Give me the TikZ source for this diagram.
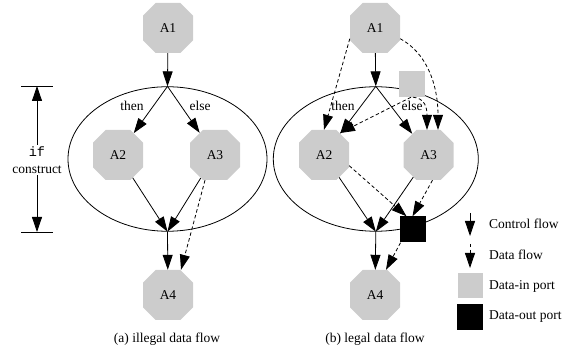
\documentclass[tikz,border=0pt]{standalone}
\usepackage{fontspec}
\setmainfont{Liberation Serif}
\setmonofont{Liberation Mono}
\usetikzlibrary{arrows.meta,shapes.misc,shapes.geometric,calc}
\definecolor{portgray}{RGB}{204,204,204}
\begin{document}
\begin{tikzpicture}[x=1pt,y=-1pt,
  font=\fontsize{13.5pt}{16.5pt}\selectfont,
  act/.style={chamfered rectangle, chamfered rectangle xsep=10.5pt,
    chamfered rectangle ysep=12.5pt, minimum width=50pt, minimum height=50pt,
    inner sep=0pt, fill=portgray},
  inport/.style={rectangle, fill=portgray, minimum size=26pt, inner sep=0pt},
  outport/.style={rectangle, fill=black, minimum size=26pt, inner sep=0pt},
  construct/.style={ellipse, draw, line width=0.8pt, inner sep=0pt, minimum height=144.5pt},
  ctrl/.style={line width=0.8pt, -{Triangle[length=15pt,width=10pt]}},
  data/.style={ctrl, dash pattern=on 3.5pt off 2.5pt},
  bar/.style={line width=0.8pt},
  lbl/.style={inner sep=1pt},
  legtext/.style={anchor=west, inner sep=0pt}]
\useasboundingbox (0,0) rectangle (568,352);

% ---------- (a) illegal data flow ----------
\node[construct, minimum width=199pt] (ellL) at (167.5,159) {};
\node[act] (a1L) at (168,28) {A1};
\node[act] (a2L) at (118,155) {A2};
\node[act] (a3L) at (215,155) {A3};
\node[act] (a4L) at (168,295) {A4};
\node[lbl] (thenL) at (132,106) {then};
\node[lbl] (elseL) at (200,106) {else};
\draw[ctrl] (a1L) -- (ellL.north);
\draw[ctrl] (ellL.north) -- (a2L);
\draw[ctrl] (ellL.north) -- (a3L);
\draw[ctrl] (a2L) -- (ellL.south);
\draw[ctrl] (a3L) -- (ellL.south);
\draw[ctrl] (ellL.south) -- (a4L);
\draw[data] ([xshift=-10pt]a3L.south) -- ([xshift=13pt]a4L.north);
\node (capL) at (167,339) {(a) illegal data flow};

% if construct dimension
\coordinate (ifT) at (37,86);
\coordinate (ifB) at (37,232);
\draw[bar] ([xshift=-16pt]ifT) -- ([xshift=16pt]ifT);
\draw[bar] ([xshift=-16pt]ifB) -- ([xshift=16pt]ifB);
\node[align=center, inner sep=2pt] (ifc) at (37,160) {\texttt{if}\\construct};
\draw[ctrl] (ifc.north) -- (ifT);
\draw[ctrl] (ifc.south) -- (ifB);

% ---------- (b) legal data flow ----------
\node[construct, minimum width=205pt] (ellR) at (375.8,159) {};
\node[act] (a1R) at (375,28) {A1};
\node[act] (a2R) at (324,155) {A2};
\node[act] (a3R) at (428.5,155) {A3};
\node[act] (a4R) at (375,295) {A4};
\node[inport] (dinR) at (412,84) {};
\node[outport] (doutR) at (412.5,229.5) {};
\node[lbl] (thenR) at (343,106) {then};
\node[lbl] (elseR) at (412,106) {else};
\draw[ctrl] (a1R) -- (ellR.north);
\draw[ctrl] (ellR.north) -- (a2R);
\draw[ctrl] (ellR.north) -- (a3R);
\draw[ctrl] (a2R) -- (ellR.south);
\draw[ctrl] (a3R) -- (ellR.south);
\draw[ctrl] (ellR.south) -- (a4R);
\draw[data] (a1R.203) -- (a2R.north);
\draw[data] (a1R.-23) .. controls +(26,14) and +(0,-46) .. ([xshift=9.5pt]a3R.north);
\draw[data] ([xshift=-1pt]dinR.south) -- ($(a2R)+(16,-22)$);
\draw[data] ([xshift=1pt]dinR.south) .. controls +(12,1) and +(0,-22) .. ([xshift=-1.5pt]a3R.north);
\draw[data] (a2R.-23) -- ([xshift=-6pt]doutR.north);
\draw[data] ([xshift=4pt]a3R.south) -- (doutR.north);
\draw[data] ([xshift=-12pt]doutR.south) -- ([xshift=11pt]a4R.north);
\node (capR) at (375,339) {(b) legal data flow};

% ---------- legend ----------
\coordinate (lc1) at (470,213);
\coordinate (lc2) at (470,236);
\coordinate (ld1) at (470,244);
\coordinate (ld2) at (470,268);
\draw[ctrl] (lc1) -- (lc2);
\draw[data] (ld1) -- (ld2);
\node[inport, minimum size=25pt] (legin) at (470,286) {};
\node[outport] (legout) at (470,317) {};
\node[legtext] (tc) at (489,224) {Control flow};
\node[legtext] (td) at (489,255) {Data flow};
\node[legtext] (ti) at (489,286) {Data-in port};
\node[legtext] (to) at (489,317) {Data-out port};
\end{tikzpicture}
\end{document}
